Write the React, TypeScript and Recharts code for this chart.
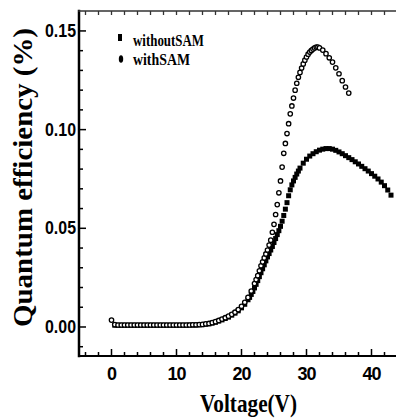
import React from 'react';
import { ScatterChart, Scatter, XAxis, YAxis, Legend, ReferenceLine } from 'recharts';

// ---------- data ----------
const voltageWithSAM = [
  0, 0.5, 1, 1.5, 2, 2.5, 3, 3.5, 4, 4.5, 5, 5.5, 6, 6.5, 7, 7.5, 8, 8.5, 9, 9.5,
  10, 10.5, 11, 11.5, 12, 12.5, 13, 13.5, 14, 14.5, 15, 15.5, 16, 16.5, 17, 17.5,
  18, 18.5, 19, 19.5, 20, 20.5, 21, 21.5, 22, 22.25, 22.5, 22.75, 23, 23.25, 23.5, 23.75,
  24, 24.25, 24.5, 24.75, 25, 25.25, 25.5, 25.75, 26, 26.25, 26.5, 26.75, 27, 27.25,
  27.5, 27.75, 28, 28.25, 28.5, 28.75, 29, 29.25, 29.5, 29.75, 30, 30.25, 30.5, 30.75,
  31, 31.25, 31.5, 31.75, 32, 32.5, 33, 33.5, 34, 34.5, 35, 35.5, 36, 36.5,
];
const qeWithSAM = [
  0.0035, 0.0012, 0.001, 0.001, 0.001, 0.001, 0.001, 0.001, 0.001, 0.001, 0.001, 0.001, 0.001, 0.001, 0.001, 0.001, 0.001, 0.001, 0.001, 0.001,
  0.001, 0.001, 0.001, 0.001, 0.001, 0.0011, 0.0011, 0.0012, 0.0013, 0.0016, 0.0018, 0.0022, 0.0027, 0.0033, 0.004, 0.0047,
  0.0055, 0.0064, 0.0075, 0.0088, 0.0105, 0.0125, 0.015, 0.0182, 0.022, 0.024, 0.026, 0.0285, 0.031, 0.033, 0.035, 0.037,
  0.039, 0.0415, 0.044, 0.048, 0.052, 0.057, 0.062, 0.068, 0.074, 0.081, 0.088, 0.093, 0.098, 0.103,
  0.108, 0.112, 0.116, 0.12, 0.1235, 0.1265, 0.129, 0.1312, 0.1333, 0.1352, 0.1368, 0.1382, 0.1393, 0.1401,
  0.1408, 0.1414, 0.1418, 0.1418, 0.1414, 0.1403, 0.1385, 0.1364, 0.1342, 0.1313, 0.1283, 0.1248, 0.1216, 0.1185,
];

const voltageWithoutSAM = [
  0.5, 1, 1.5, 2, 2.5, 3, 3.5, 4, 4.5, 5, 5.5, 6, 6.5, 7, 7.5, 8, 8.5, 9, 9.5,
  10, 10.5, 11, 11.5, 12, 12.5, 13, 13.5, 14, 14.5, 15, 15.5, 16, 16.5, 17, 17.5,
  18, 18.5, 19, 19.5, 20, 20.5, 21, 21.25, 21.5, 21.75, 22, 22.25, 22.5, 22.75, 23, 23.25, 23.5, 23.75,
  24, 24.25, 24.5, 24.75, 25, 25.25, 25.5, 25.75, 26, 26.25, 26.5, 26.75, 27, 27.25,
  27.5, 27.75, 28, 28.25, 28.5, 28.75, 29, 29.5, 30, 30.5, 31, 31.5, 32, 32.5, 33, 33.5,
  34, 34.5, 35, 35.5, 36, 36.5, 37, 37.5, 38, 38.5, 39, 39.5, 40, 40.5, 41, 41.5, 42, 42.5, 43,
];
const qeWithoutSAM = [
  0.0009, 0.0009, 0.0009, 0.0009, 0.0009, 0.0009, 0.0009, 0.0009, 0.0009, 0.0009, 0.0009, 0.0009, 0.0009, 0.0009, 0.0009, 0.0009, 0.0009, 0.0009, 0.0009,
  0.0009, 0.0009, 0.0009, 0.0009, 0.001, 0.001, 0.001, 0.0011, 0.0012, 0.0014, 0.0016, 0.002, 0.0024, 0.003, 0.0036, 0.0043,
  0.005, 0.006, 0.007, 0.0082, 0.0097, 0.0115, 0.0138, 0.015, 0.0165, 0.018, 0.0198, 0.0216, 0.0235, 0.0255, 0.0275, 0.0295, 0.0315, 0.0335,
  0.0355, 0.0372, 0.039, 0.0408, 0.0428, 0.0448, 0.0468, 0.0488, 0.051, 0.0536, 0.0565, 0.0597, 0.063, 0.0665,
  0.0695, 0.072, 0.074, 0.0758, 0.0775, 0.079, 0.0805, 0.083, 0.085, 0.0866, 0.0878, 0.0888, 0.0896, 0.0901, 0.0904, 0.0904,
  0.0901, 0.0895, 0.0887, 0.0878, 0.0868, 0.0858, 0.0848, 0.0837, 0.0826, 0.0814, 0.0802, 0.079, 0.0777, 0.0764, 0.075, 0.0734, 0.0716, 0.0694, 0.0668,
];

const seriesNames = ['withoutSAM', 'withSAM'];

const xMajorTicks = [0, 10, 20, 30, 40];
const xAllTicks = [-4, -2, 0, 2, 4, 6, 8, 10, 12, 14, 16, 18, 20, 22, 24, 26, 28, 30, 32, 34, 36, 38, 40, 42, 44];
const yMajorTicks = [0, 0.05, 0.1, 0.15];
const yAllTicks = [-0.01, 0, 0.01, 0.02, 0.03, 0.04, 0.05, 0.06, 0.07, 0.08, 0.09, 0.1, 0.11, 0.12, 0.13, 0.14, 0.15];
const xDomain = [-5, 45];
const yDomain = [-0.0147, 0.1601];

const dataWithSAM = voltageWithSAM.map((v, i) => ({ v, q: qeWithSAM[i] }));
const dataWithoutSAM = voltageWithoutSAM.map((v, i) => ({ v, q: qeWithoutSAM[i] }));

// ---------- helpers ----------
const isMajor = (val: number, list: number[]) => list.some((m) => Math.abs(m - val) < 1e-9);
const SANS = "'Liberation Sans', Arial, sans-serif";
const SERIF = "'Liberation Serif', 'Times New Roman', serif";

const BottomTick = (props: any) => {
  const { x, y, payload } = props;
  const major = isMajor(payload.value, xMajorTicks);
  const len = major ? 7 : 4;
  return (
    <g>
      <rect x={x - 0.75} y={y - len} width={1.5} height={len} fill="#000" />
      {major && (
        <text x={x} y={y + 24} textAnchor="middle" fontFamily={SANS} fontWeight="bold" fontSize={18} fill="#000" letterSpacing={-1}>
          {payload.value}
        </text>
      )}
    </g>
  );
};

const TopTick = (props: any) => {
  const { x, y } = props;
  return <rect x={x - 0.65} y={y} width={1.3} height={4} fill="#333" />;
};

const LeftTick = (props: any) => {
  const { x, y, payload } = props;
  const major = isMajor(payload.value, yMajorTicks);
  const len = major ? 7 : 4;
  return (
    <g>
      <rect x={x} y={y - 0.75} width={len} height={1.5} fill="#000" />
      {major && (
        <text x={x - 3} y={y + 6} textAnchor="end" fontFamily={SANS} fontWeight="bold" fontSize={18} fill="#000"
          textLength={31} lengthAdjust="spacingAndGlyphs">
          {Number(payload.value).toFixed(2)}
        </text>
      )}
    </g>
  );
};

const YLabel = (props: any) => {
  const vb = props.viewBox || {};
  const x = vb.x + 24;
  const y = vb.y + vb.height / 2 - 6;
  return (
    <text x={x} y={y} transform={`rotate(-90, ${x}, ${y})`} textAnchor="middle" fontFamily={SERIF} fontWeight="bold"
      fontSize={27} fill="#000" textLength={299} lengthAdjust="spacingAndGlyphs">
      Quantum efficiency (%)
    </text>
  );
};

const XLabel = (props: any) => {
  const vb = props.viewBox || {};
  const x = vb.x + vb.width / 2 + 7;
  const y = vb.y + 56;
  return (
    <text x={x} y={y} textAnchor="middle" fontFamily={SERIF} fontWeight="bold" fontSize={26} fill="#000"
      textLength={97} lengthAdjust="spacingAndGlyphs">
      Voltage(V)
    </text>
  );
};

const frameShape = (thick: number, color: string) => (p: any) => {
  const { x1, y1, x2, y2 } = p;
  if ([x1, y1, x2, y2].some((n) => typeof n !== 'number' || isNaN(n))) return <g />;
  return (
    <rect
      x={Math.min(x1, x2) - thick / 2}
      y={Math.min(y1, y2) - thick / 2}
      width={Math.abs(x2 - x1) + thick}
      height={Math.abs(y2 - y1) + thick}
      fill={color}
    />
  );
};

const SquareShape = (props: any) => {
  const { cx, cy } = props;
  if (cx == null || cy == null) return null;
  return <rect x={cx - 2.5} y={cy - 2.5} width={5} height={5} fill="#000" />;
};

const CircleShape = (props: any) => {
  const { cx, cy } = props;
  if (cx == null || cy == null) return null;
  return <circle cx={cx} cy={cy} r={2.2} fill="#fff" stroke="#000" strokeWidth={1.3} />;
};

const NoShape = () => <g />;

const renderLegend = () => (
  <svg width={110} height={44} style={{ display: 'block' }}>
    <rect x={6} y={6} width={4} height={7} fill="#000" />
    <text x={21} y={18} fontFamily={SERIF} fontWeight="bold" fontSize={16} fill="#000" textLength={71} lengthAdjust="spacingAndGlyphs">
      {seriesNames[0]}
    </text>
    <ellipse cx={9} cy={31} rx={2.2} ry={3.8} fill="#000" />
    <text x={21} y={37} fontFamily={SERIF} fontWeight="bold" fontSize={16} fill="#000" textLength={57} lengthAdjust="spacingAndGlyphs">
      {seriesNames[1]}
    </text>
  </svg>
);

export default function App() {
  return (
    <div style={{ width: 396, height: 410, position: 'relative' }}>
      <ScatterChart width={396} height={410} margin={{ top: 0, right: 0, bottom: 0, left: 0 }}>
        <XAxis
          xAxisId="top"
          orientation="top"
          type="number"
          dataKey="v"
          domain={xDomain}
          ticks={xAllTicks}
          interval={0}
          allowDataOverflow
          height={3}
          tickSize={0}
          tickMargin={0}
          tickLine={false}
          tick={<TopTick />}
          axisLine={false}
        />
        <XAxis
          type="number"
          dataKey="v"
          domain={xDomain}
          ticks={xAllTicks}
          interval={0}
          allowDataOverflow
          height={62}
          tickSize={0}
          tickMargin={0}
          tickLine={false}
          tick={<BottomTick />}
          axisLine={false}
          label={{ content: <XLabel /> }}
        />
        <YAxis
          type="number"
          dataKey="q"
          domain={yDomain}
          ticks={yAllTicks}
          interval={0}
          allowDataOverflow
          width={71}
          tickSize={0}
          tickMargin={0}
          tickLine={false}
          tick={<LeftTick />}
          axisLine={false}
          label={{ content: <YLabel /> }}
        />
        <ReferenceLine x={xDomain[0]} ifOverflow="visible" shape={frameShape(2.5, '#000')} />
        <ReferenceLine y={yDomain[0]} ifOverflow="visible" shape={frameShape(2, '#000')} />
        <ReferenceLine y={yDomain[1]} ifOverflow="visible" shape={frameShape(1.5, '#333')} />
        <Legend
          layout="vertical"
          align="center"
          verticalAlign="middle"
          wrapperStyle={{ left: 104, top: 20, width: 110, height: 44 }}
          content={renderLegend}
        />
        <Scatter xAxisId="top" data={dataWithoutSAM} shape={<NoShape />} legendType="none" isAnimationActive={false} />
        <Scatter name={seriesNames[0]} data={dataWithoutSAM} shape={<SquareShape />} isAnimationActive={false} />
        <Scatter name={seriesNames[1]} data={dataWithSAM} shape={<CircleShape />} isAnimationActive={false} />
      </ScatterChart>
    </div>
  );
}
